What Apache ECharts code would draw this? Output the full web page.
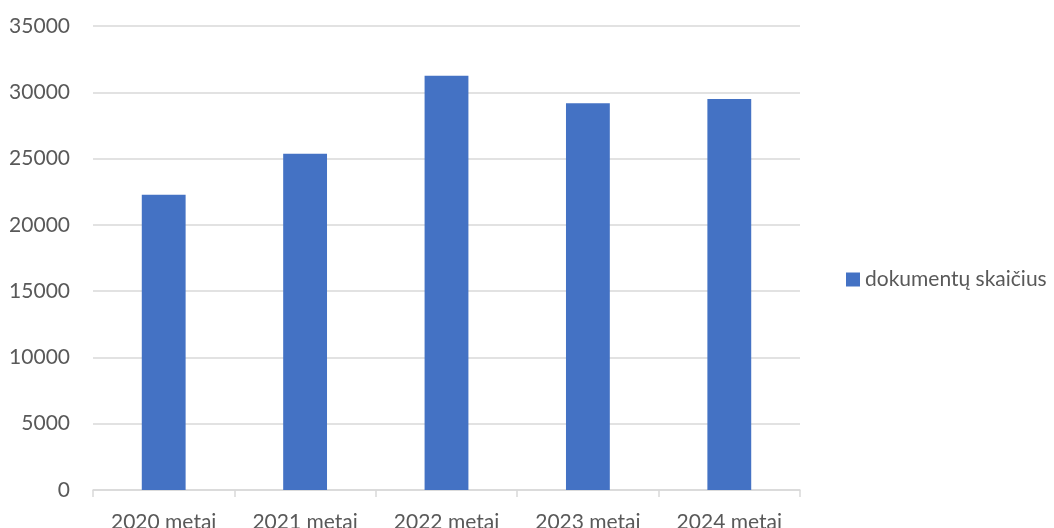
<!DOCTYPE html>
<html><head><meta charset="utf-8">
<script src="https://cdn.jsdelivr.net/npm/echarts@6/dist/echarts.min.js"></script>
<style>html,body{margin:0;padding:0;background:#fff}#c{width:1054px;height:528px}</style>
</head><body><div id="c"></div>
<script>
const categories = ["2020 metai", "2021 metai", "2022 metai", "2023 metai", "2024 metai"];
const seriesName = "dokumentų skaičius";
const values = [22280, 25370, 31250, 29170, 29490];
const yMin = 0, yMax = 35000, yStep = 5000;

const chart = echarts.init(document.getElementById('c'), null, {renderer: 'canvas'});
const font = 'Lato';
chart.setOption({
  animation: false,
  backgroundColor: '#ffffff',
  grid: {left: 93, right: 254, top: 26, bottom: 38, containLabel: false, outerBoundsMode: 'none'},
  legend: {
    data: [seriesName], left: 841, top: 264, orient: 'vertical',
    icon: 'rect', itemWidth: 14, itemHeight: 14, itemGap: 6,
    textStyle: {fontFamily: font, fontSize: 21, color: '#595959', padding: [0,0,0,0]}
  },
  xAxis: {
    type: 'category', data: categories,
    axisLine: {lineStyle: {color: '#d9d9d9', width: 1.5}},
    axisTick: {show: true, length: 7, alignWithLabel: false, lineStyle: {color: '#d9d9d9', width: 1.5}},
    axisLabel: {fontFamily: font, fontSize: 21, color: '#595959', margin: 22}
  },
  yAxis: {
    type: 'value', min: yMin, max: yMax, interval: yStep,
    axisLine: {show: false}, axisTick: {show: false},
    splitLine: {lineStyle: {color: '#d9d9d9', width: 1.5}},
    axisLabel: {fontFamily: font, fontSize: 21, color: '#595959', margin: 23,
      formatter: v => String(v)}
  },
  series: [{
    name: seriesName, type: 'bar', data: values, barWidth: '31%',
    itemStyle: {color: '#4472C4'}
  }]
});
</script></body></html>
